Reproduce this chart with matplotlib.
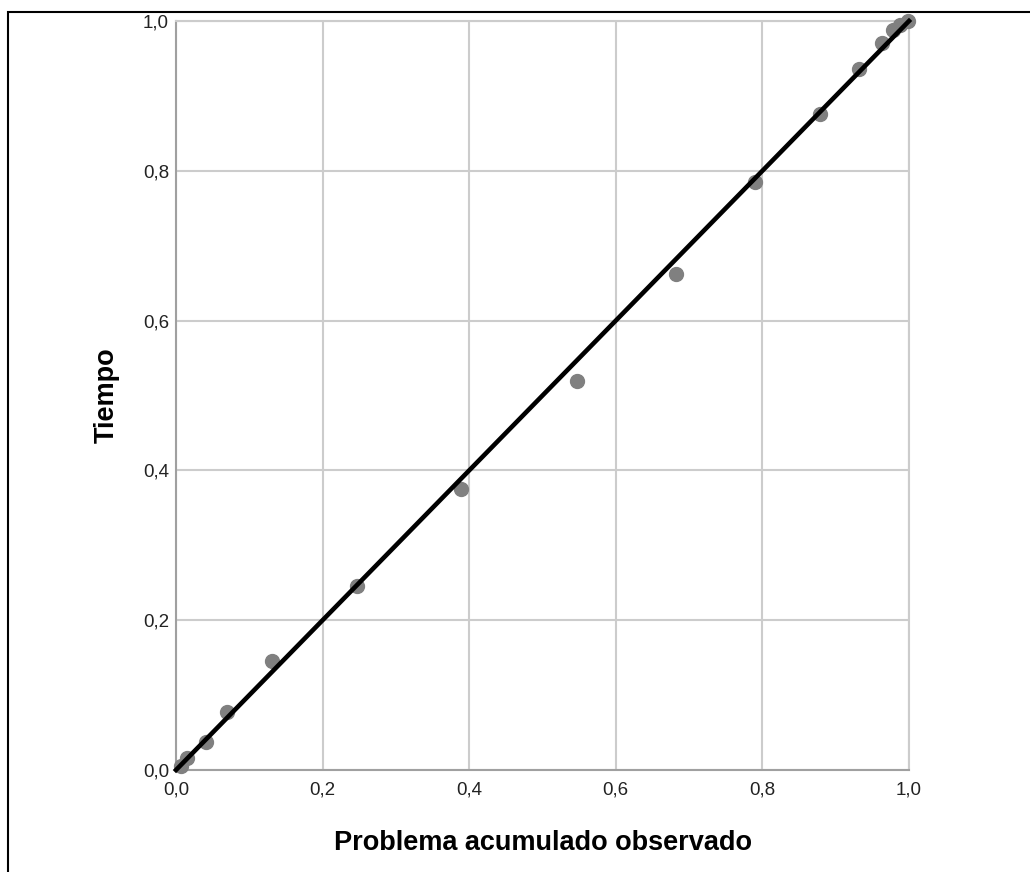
import numpy as np
import matplotlib.pyplot as plt
from matplotlib.patches import Rectangle

plt.rcParams['font.family'] = ['Liberation Sans', 'DejaVu Sans']

# Valores observados (prob. acumulada) y esperados
observado = [0.007, 0.015, 0.041, 0.070, 0.131, 0.247, 0.389, 0.547,
             0.682, 0.790, 0.879, 0.932, 0.963, 0.978, 0.988, 0.999]
esperado = [0.005, 0.016, 0.037, 0.077, 0.146, 0.246, 0.375, 0.519,
            0.662, 0.785, 0.876, 0.936, 0.971, 0.988, 0.995, 1.000]
ticks = [0.0, 0.2, 0.4, 0.6, 0.8, 1.0]
tick_labels = ['0,0', '0,2', '0,4', '0,6', '0,8', '1,0']

fig = plt.figure(figsize=(10.30, 8.72), dpi=100)
ax = fig.add_axes([176 / 1030, 1 - 770 / 872, 733 / 1030, 749 / 872])

# marco exterior
fig.patches.append(Rectangle((8 / 1030, -0.01), 1.05, 1 - 12 / 872 + 0.01,
                             transform=fig.transFigure, fill=False,
                             edgecolor='black', linewidth=1.5))

ax.grid(True, color='#cccccc', linewidth=1.5)
ax.set_axisbelow(True)
for s in ax.spines.values():
    s.set_color('#cccccc')
    s.set_linewidth(1.5)
ax.spines['left'].set_color('#a0a0a0')
ax.spines['bottom'].set_color('#a0a0a0')

ax.scatter(observado, esperado, s=100, color='#808080', zorder=3, clip_on=False)
ax.plot([0, 1], [0, 1], color='black', linewidth=3.3, zorder=4, clip_on=False)

ax.set_xlim(0, 1)
ax.set_ylim(0, 1)
ax.set_xticks(ticks)
ax.set_yticks(ticks)
ax.set_xticklabels(tick_labels)
ax.set_yticklabels(tick_labels)
ax.tick_params(length=0, labelsize=13.5, colors='#222222')
ax.tick_params(axis='x', pad=8)
ax.tick_params(axis='y', pad=5)

ax.set_xlabel('Problema acumulado observado', fontsize=19.5, fontweight='bold', labelpad=23)
ax.set_ylabel('Tiempo', fontsize=19.5, fontweight='bold', labelpad=17)

fig.savefig('out.png', dpi=100)
